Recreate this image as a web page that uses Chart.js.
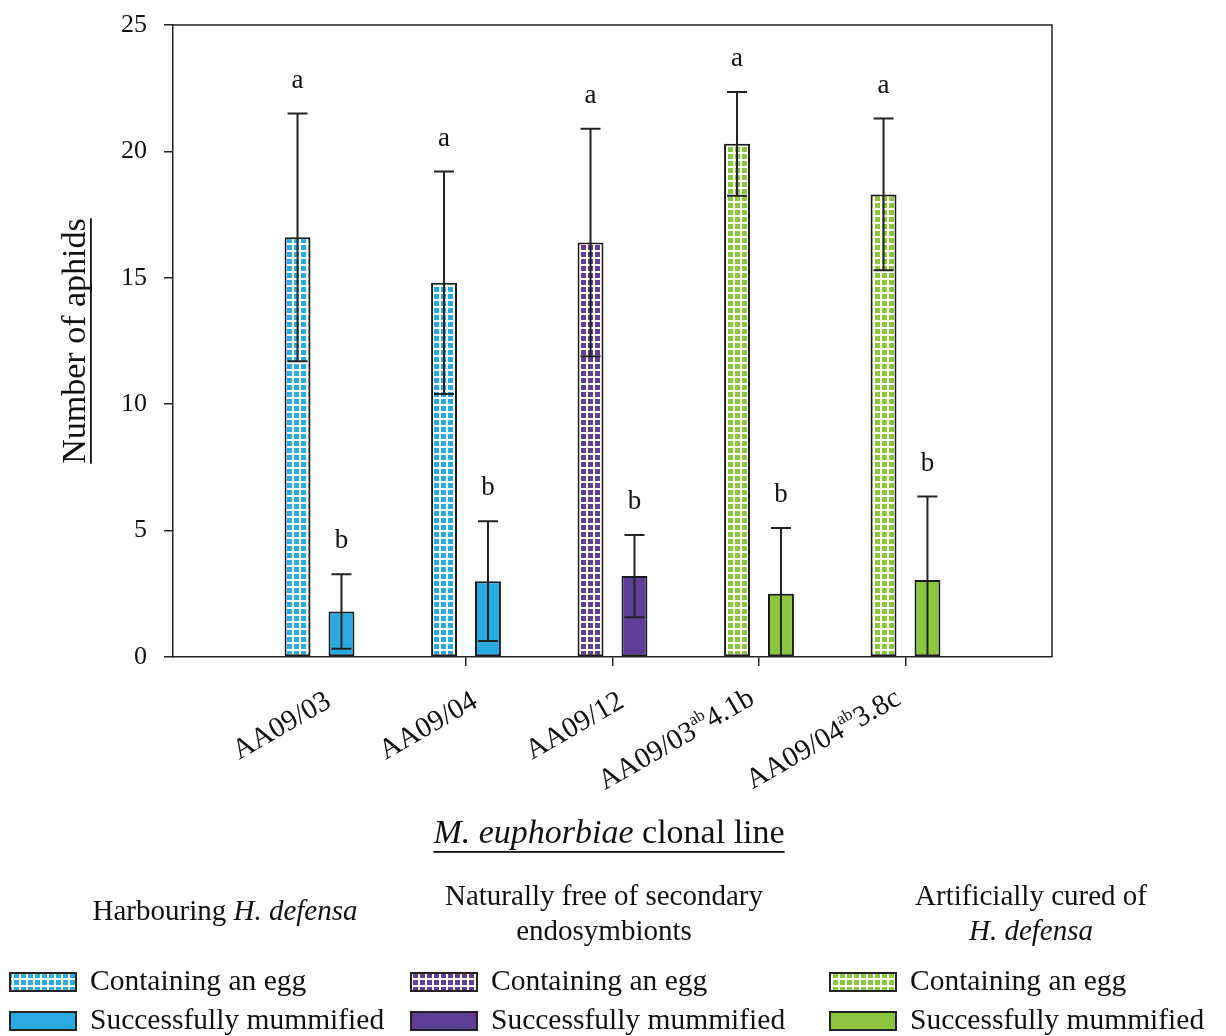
<!DOCTYPE html>
<html>
<head>
<meta charset="utf-8">
<script src="https://cdn.jsdelivr.net/npm/chart.js@4"></script>
<style>
  html, body { margin: 0; padding: 0; background: #fff; }
  canvas { display: block; }
</style>
</head>
<body>
<canvas id="c" width="1226" height="1036"></canvas>
<script>
// ---- data ----
const labelBase = ['AA09/03', 'AA09/04', 'AA09/12', 'AA09/03', 'AA09/04'];
const labelSup  = ['', '', '', 'ab', 'ab'];
const labelTail = ['', '', '', '4.1b', '3.8c'];
const categories = labelBase.map((b, i) => b + labelSup[i] + labelTail[i]);

const eggMeans  = [16.6, 14.8, 16.4, 20.3, 18.3];
const eggErr    = [4.9, 4.4, 4.5, 2.05, 3.0];
const mummMeans = [1.8, 3.0, 3.2, 2.5, 3.05];
const mummErr   = [1.47, 2.37, 1.63, 2.6, 3.3];
const eggLetters  = ['a', 'a', 'a', 'a', 'a'];
const mummLetters = ['b', 'b', 'b', 'b', 'b'];

// which group each clonal line belongs to
const groupOf = [0, 0, 1, 2, 2];
const groupColors = ['#29abe2', '#5e3f98', '#8cc63f'];
const groupTitles = [
  [[{ t: 'Harbouring ' }, { t: 'H. defensa', i: true }]],
  [[{ t: 'Naturally free of secondary' }], [{ t: 'endosymbionts' }]],
  [[{ t: 'Artificially cured of' }], [{ t: 'H. defensa', i: true }]]
];
const seriesNames = ['Containing an egg', 'Successfully mummified'];
const yTicks = [0, 5, 10, 15, 20, 25];

const SERIF = '"Liberation Serif", "Times New Roman", serif';
const canvas = document.getElementById('c');
const ctx = canvas.getContext('2d');

function makePattern(color) {
  const c = document.createElement('canvas');
  c.width = 7; c.height = 7;
  const g = c.getContext('2d');
  g.fillStyle = '#ffffff';
  g.fillRect(0, 0, 7, 7);
  g.fillStyle = color;
  g.fillRect(0, 0, 5, 5);
  return ctx.createPattern(c, 'repeat');
}
const groupPatterns = groupColors.map(makePattern);

// pad with an empty slot on each side so the ticks sit like the original
const pad = arr => [null, ...arr, null];

function drawRuns(g, runs, cx, y, size) {
  const fonts = runs.map(r => (r.i ? 'italic ' : '') + size + 'px ' + SERIF);
  let total = 0;
  const widths = runs.map((r, k) => { g.font = fonts[k]; const w = g.measureText(r.t).width; total += w; return w; });
  let x = cx - total / 2;
  g.textAlign = 'left';
  runs.forEach((r, k) => { g.font = fonts[k]; g.fillText(r.t, x, y); x += widths[k]; });
  return { x0: cx - total / 2, x1: cx + total / 2 };
}

const extras = {
  id: 'extras',
  afterDatasetsDraw(chart) {
    const g = chart.ctx;
    const y = chart.scales.y;
    const area = chart.chartArea;
    g.save();
    // frame (top + right)
    g.strokeStyle = '#222';
    g.lineWidth = 1.5;
    g.beginPath();
    g.moveTo(area.left, area.top);
    g.lineTo(area.right, area.top);
    g.lineTo(area.right, area.bottom);
    g.stroke();

    // error bars + letters
    const sets = [[eggMeans, eggErr, eggLetters], [mummMeans, mummErr, mummLetters]];
    sets.forEach(([means, errs, letters], d) => {
      const meta = chart.getDatasetMeta(d);
      means.forEach((m, i) => {
        const bar = meta.data[i + 1];
        const x = bar.x;
        const hi = y.getPixelForValue(m + errs[i]);
        const loV = m - errs[i];
        const lo = y.getPixelForValue(Math.max(0, loV));
        g.strokeStyle = '#222';
        g.lineWidth = 2;
        g.beginPath();
        g.moveTo(x, hi); g.lineTo(x, lo);
        g.moveTo(x - 10, hi); g.lineTo(x + 10, hi);
        if (loV > 0) { g.moveTo(x - 10, lo); g.lineTo(x + 10, lo); }
        g.stroke();
        g.fillStyle = '#111';
        g.font = '27px ' + SERIF;
        g.textAlign = 'center';
        g.textBaseline = 'middle';
        g.fillText(letters[i], x, hi - 33);
      });
    });
    g.restore();
  },
  afterDraw(chart) {
    const g = chart.ctx;
    const xs = chart.scales.x;
    const area = chart.chartArea;
    g.save();
    g.fillStyle = '#111';
    g.textBaseline = 'alphabetic';

    // rotated category labels with superscripts
    categories.forEach((c, i) => {
      const tx = xs.getPixelForValue(i + 1);
      const long = labelSup[i] !== '';
      g.save();
      g.translate(tx + (long ? -3 : 13), area.bottom + (long ? 46 : 49));
      g.rotate(-30 * Math.PI / 180);
      const big = '29px ' + SERIF, small = '17px ' + SERIF;
      g.font = big;
      const wTail = g.measureText(labelTail[i]).width;
      const wBase = g.measureText(labelBase[i]).width;
      g.font = small;
      const wSup = g.measureText(labelSup[i]).width;
      let x = -(wTail + wSup + wBase);
      g.textAlign = 'left';
      g.font = big; g.fillText(labelBase[i], x, 0); x += wBase;
      g.font = small; g.fillText(labelSup[i], x, -12); x += wSup;
      g.font = big; g.fillText(labelTail[i], x, 0);
      g.restore();
    });

    // y axis title
    g.save();
    g.translate(76, 341);
    g.rotate(-Math.PI / 2);
    g.font = '34px ' + SERIF;
    g.textAlign = 'center';
    g.textBaseline = 'middle';
    g.fillText('Number of aphids', 0, 0);
    const wy = g.measureText('Number of aphids').width;
    g.fillRect(-wy / 2, 14, wy, 1.8);
    g.restore();

    // x axis title
    g.textBaseline = 'middle';
    const ext = drawRuns(g, [{ t: 'M. euphorbiae', i: true }, { t: ' clonal line' }], 609, 834, 34);
    g.fillRect(ext.x0, 851, ext.x1 - ext.x0, 1.8);

    // legend
    const colX = [10, 411, 830];
    const titleCX = [225, 604, 1031];
    for (let k = 0; k < 3; k++) {
      const lines = groupTitles[k];
      if (lines.length === 1) drawRuns(g, lines[0], titleCX[k], 912, 29);
      else lines.forEach((ln, j) => drawRuns(g, ln, titleCX[k], 897 + j * 35, 29));
      [982, 1021].forEach((cy, s) => {
        g.fillStyle = s === 0 ? groupPatterns[k] : groupColors[k];
        g.fillRect(colX[k], cy - 9, 66, 18);
        g.strokeStyle = '#222';
        g.lineWidth = 2;
        g.strokeRect(colX[k], cy - 9, 66, 18);
        g.fillStyle = '#111';
        g.font = '29.5px ' + SERIF;
        g.textAlign = 'left';
        g.fillText(seriesNames[s], colX[k] + 80, cy);
      });
    }
    g.restore();
  }
};

new Chart(ctx, {
  type: 'bar',
  data: {
    labels: pad(categories),
    datasets: [
      {
        label: seriesNames[0],
        data: pad(eggMeans),
        backgroundColor: pad(groupOf.map(k => groupPatterns[k])),
        borderColor: '#1a1a1a',
        borderWidth: 2,
        borderSkipped: false
      },
      {
        label: seriesNames[1],
        data: pad(mummMeans),
        backgroundColor: pad(groupOf.map(k => groupColors[k])),
        borderColor: '#1a1a1a',
        borderWidth: 2,
        borderSkipped: false
      }
    ]
  },
  options: {
    responsive: false,
    animation: false,
    devicePixelRatio: 1,
    categoryPercentage: 0.6,
    barPercentage: 0.59,
    layout: { padding: { top: 25, right: 174, bottom: 0, left: 0 } },
    plugins: { legend: { display: false }, tooltip: { enabled: false } },
    scales: {
      x: {
        offset: false,
        afterFit(scale) { scale.height = 379; scale.paddingLeft = 0; scale.paddingRight = 0; },
        ticks: { display: false },
        grid: {
          offset: false,
          drawOnChartArea: false,
          drawTicks: true,
          tickLength: 9,
          lineWidth: 1.5,
          color: c => (c.index === 0 || c.index === categories.length + 1) ? 'rgba(0,0,0,0)' : '#222'
        },
        border: { display: true, color: '#222', width: 1.5 }
      },
      y: {
        min: 0,
        max: 25,
        afterFit(scale) { scale.width = 173; scale.paddingTop = 0; scale.paddingBottom = 0; },
        afterBuildTicks(scale) { scale.ticks = yTicks.map(v => ({ value: v })); },
        ticks: { font: { family: SERIF, size: 26 }, color: '#111', padding: 17 },
        grid: { drawOnChartArea: false, drawTicks: true, tickLength: 9, lineWidth: 1.5, color: '#222' },
        border: { display: true, color: '#222', width: 1.5 }
      }
    }
  },
  plugins: [extras]
});
</script>
</body>
</html>
